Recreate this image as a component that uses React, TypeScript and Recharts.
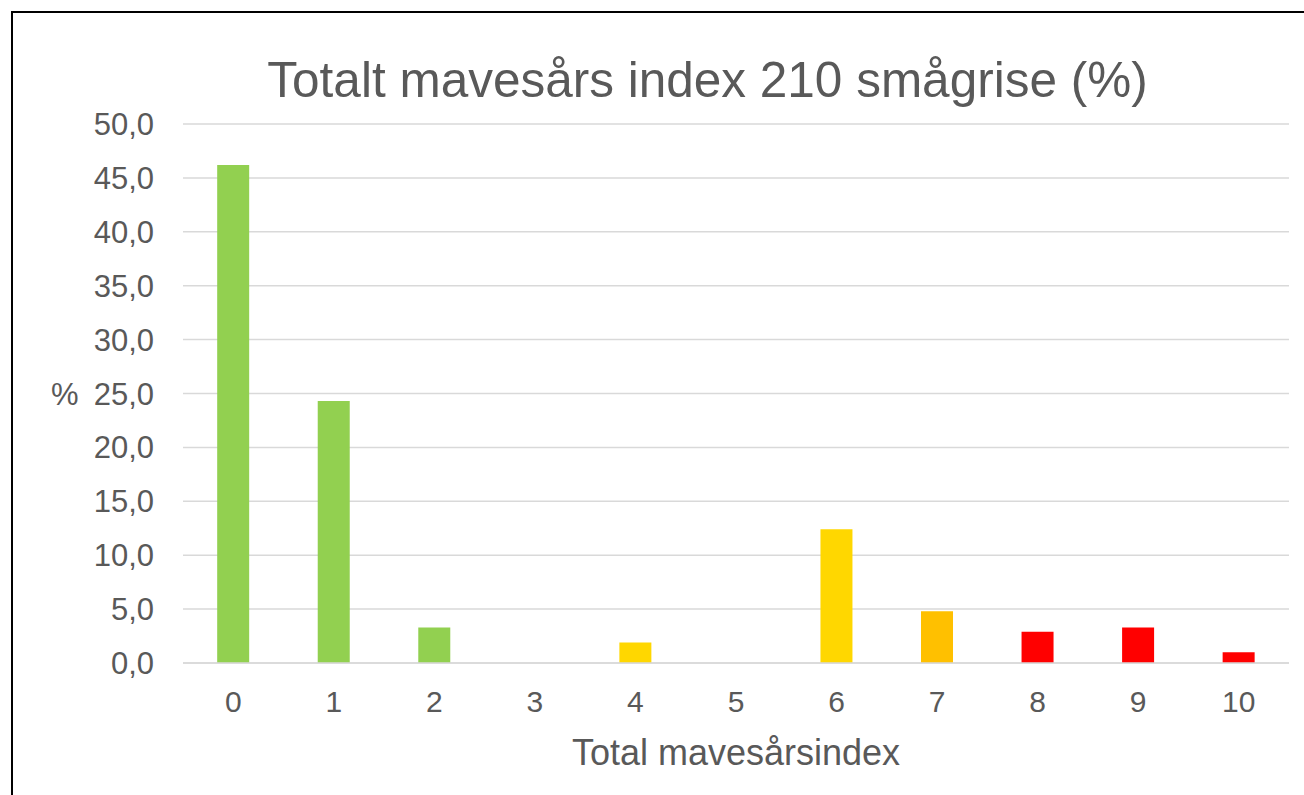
import React from 'react';
import { BarChart, Bar, XAxis, YAxis, CartesianGrid, Cell } from 'recharts';

const categories = ['0', '1', '2', '3', '4', '5', '6', '7', '8', '9', '10'];
const percentValues = [46.2, 24.3, 3.3, 0, 1.9, 0, 12.4, 4.8, 2.9, 3.3, 1.0];
const barColors = [
    '#92D050', '#92D050', '#92D050', '#92D050', '#FFD700', '#FFD700',
    '#FFD700', '#FFC000', '#FF0000', '#FF0000', '#FF0000',
];
const yTicks = [0, 5, 10, 15, 20, 25, 30, 35, 40, 45, 50];

const chartTitle = 'Totalt mavesårs index 210 smågrise (%)';
const xTitle = 'Total mavesårsindex';
const yTitle = '%';

const data = categories.map((name, i) => ({ name, value: percentValues[i] }));

const FONT = '"Liberation Sans", Arial, sans-serif';
const TEXT = '#595959';

export default function App() {
    return (
        <div style={{ position: 'absolute', left: 0, top: 0, width: 1304, height: 795, overflow: 'hidden', background: '#fff', fontFamily: FONT }}>
            <div style={{ position: 'absolute', left: 11, top: 11, width: 1320, height: 820, border: '2px solid #000' }} />
            <svg width={1304} height={120} style={{ position: 'absolute', left: 0, top: 0 }}>
                <text x={707.5} y={96.7} textAnchor="middle" fontSize={49.5} fill={TEXT} fontFamily={FONT}>
                    {chartTitle}
                </text>
            </svg>
            <div style={{ position: 'absolute', left: 0, top: 0 }}>
                <BarChart
                    width={1304}
                    height={795}
                    data={data}
                    margin={{ top: 124, right: 15, bottom: 22, left: 0 }}
                    barCategoryGap="34%"
                >
                    <CartesianGrid vertical={false} stroke="#d9d9d9" strokeWidth={1.5} />
                    <XAxis
                        dataKey="name"
                        height={110}
                        tickLine={false}
                        tickSize={0}
                        tickMargin={28}
                        axisLine={{ stroke: '#d9d9d9', strokeWidth: 1.5 }}
                        tick={{ fontSize: 30, fill: TEXT, fontFamily: FONT }}
                        label={{ value: xTitle, position: 'insideBottom', offset: 8, fontSize: 36, fill: TEXT, fontFamily: FONT }}
                    />
                    <YAxis
                        width={183}
                        domain={[0, 50]}
                        ticks={yTicks}
                        interval={0}
                        axisLine={false}
                        tickLine={false}
                        tickSize={0}
                        tickMargin={29}
                        tickFormatter={(v: number) => v.toFixed(1).replace('.', ',')}
                        tick={{ fontSize: 31, fill: TEXT, fontFamily: FONT }}
                        label={{ value: yTitle, position: 'insideLeft', offset: 51, angle: 0, fontSize: 31, fill: TEXT, fontFamily: FONT, textAnchor: 'start' }}
                    />
                    <Bar dataKey="value" isAnimationActive={false}>
                        {data.map((d, i) => (
                            <Cell key={d.name} fill={barColors[i]} />
                        ))}
                    </Bar>
                </BarChart>
            </div>
        </div>
    );
}
